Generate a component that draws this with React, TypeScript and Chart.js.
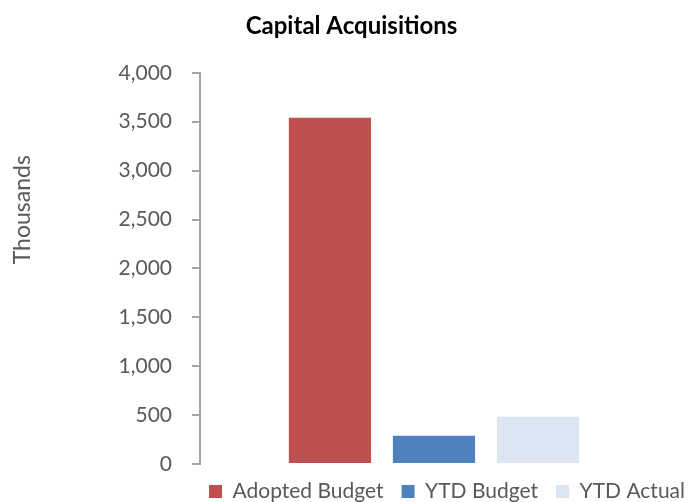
import React, { useEffect, useRef } from "react";
import { Chart, registerables } from "chart.js";

Chart.register(...registerables);

const categories = [""];
const seriesNames = ["Adopted Budget", "YTD Budget", "YTD Actual"];
const seriesValues = [[3540], [290], [482]];
const seriesColors = ["#C0504D", "#4F81BD", "#DCE6F2"];
const yTicks = [0, 500, 1000, 1500, 2000, 2500, 3000, 3500, 4000];
const yAxisTitle = "Thousands";

export default function App() {
  const ref = useRef<HTMLCanvasElement>(null);
  useEffect(() => {
    document.body.style.margin = "0";
    const font = "Lato, 'Open Sans', sans-serif";
    const axisTitlePlugin = {
      id: "axisTitle",
      afterDraw(c: any) {
        const ctx = c.ctx;
        const area = c.chartArea;
        ctx.save();
        ctx.translate(23, area.top + (area.bottom - area.top) * 0.35);
        ctx.rotate(-Math.PI / 2);
        ctx.fillStyle = "#595959";
        ctx.font = `23px ${font}`;
        ctx.textAlign = "center";
        ctx.textBaseline = "middle";
        ctx.fillText(yAxisTitle, 0, 0);
        ctx.restore();
      },
    };
    const chart = new Chart(ref.current!, {
      type: "bar",
      data: {
        labels: categories,
        datasets: seriesNames.map((n, i) => ({
          label: n,
          data: seriesValues[i],
          backgroundColor: seriesColors[i],
          borderWidth: 0,
          categoryPercentage: 0.667,
          barPercentage: 0.79,
        })),
      },
      plugins: [axisTitlePlugin],
      options: {
        animation: false,
        responsive: false,
        maintainAspectRatio: false,
        layout: { padding: { left: 0, right: -15, top: 0, bottom: -11 } },
        plugins: {
          title: {
            display: true,
            text: "Capital Acquisitions",
            color: "#000",
            font: { family: font, size: 24, weight: "bold" },
            padding: { top: 12, bottom: 32 },
          },
          legend: {
            position: "bottom",
            align: "end",
            labels: {
              boxWidth: 13,
              boxHeight: 13,
              color: "#595959",
              font: { family: font, size: 21 },
              padding: 18,
            },
          },
          tooltip: { enabled: false },
        },
        scales: {
          x: {
            grid: { display: false },
            border: { display: false },
            ticks: { display: false },
            afterFit: (s: any) => {
              s.height = -1;
            },
          },
          y: {
            min: 0,
            max: 4000,
            afterBuildTicks: (s: any) => {
              s.ticks = yTicks.map((v) => ({ value: v }));
            },
            afterFit: (s: any) => {
              s.width = 200;
            },
            ticks: {
              color: "#595959",
              font: { family: font, size: 21 },
              padding: 20,
              callback: (v: any) => Number(v).toLocaleString("en-US"),
            },
            grid: {
              drawOnChartArea: false,
              drawTicks: true,
              tickLength: 8,
              color: "#A6A6A6",
              lineWidth: 2,
            },
            border: { display: true, color: "#A6A6A6", width: 2 },
            title: { display: false },
          },
          y2: {
            position: "right",
            display: true,
            grid: { display: false },
            border: { display: false },
            ticks: { display: false },
            afterFit: (s: any) => {
              s.width = 35;
            },
          },
        },
      },
    });
    return () => chart.destroy();
  }, []);
  return (
    <div style={{ width: 688, height: 502 }}>
      <canvas ref={ref} width={688} height={502} style={{ width: 688, height: 502, display: "block" }} />
    </div>
  );
}
